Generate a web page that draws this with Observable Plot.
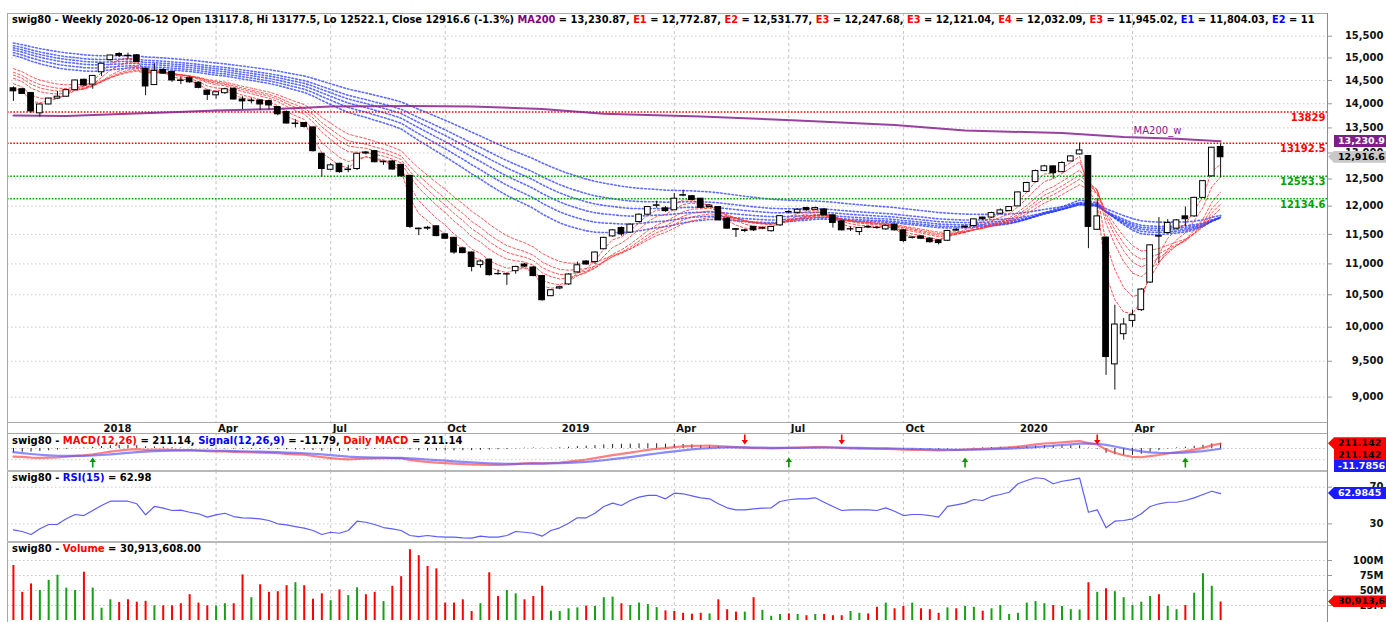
<!DOCTYPE html>
<html>
<head>
<meta charset="utf-8">
<script src="https://cdn.jsdelivr.net/npm/d3@7"></script>
<script src="https://cdn.jsdelivr.net/npm/@observablehq/plot@0.6"></script>
<style>
  html, body { margin: 0; padding: 0; background: #fff; }
  #chart { position: relative; width: 1386px; height: 622px; overflow: hidden; background: #fff;
    font-family: "DejaVu Sans", Verdana, sans-serif; font-size: 10px; font-weight: bold; color: #000; }
  #chart svg { position: absolute; left: 0; }
  .title { position: absolute; left: 12px; height: 13px; line-height: 13px; white-space: nowrap; overflow: hidden; }
  .rule { position: absolute; background: #a8a8a8; }
  .box { position: absolute; height: 12px; line-height: 12px; white-space: nowrap; box-sizing: border-box; font-size: 9.5px; }
</style>
</head>
<body>
<div id="chart"></div>
<script>
// ---------------- data ----------------
const firstWeek = "2017-10-27";
const lastWeek = "2020-06-12";

const open = [14330,14310,14230,13800,13985,14110,14150,14290,14515,14410,
14680,14950,15090,15050,15060,14760,14400,14730,14690,14500,
14550,14450,14280,14180,14225,14320,14090,14065,14070,14055,
13930,13825,13590,13600,13510,12985,12675,12790,12680,12690,
12990,13035,12830,12835,12770,12560,11600,11600,11640,11500,
11440,11260,11190,10980,11070,10830,10830,10880,10990,10940,
10800,10478,10600,10665,10860,11040,11030,11245,11465,11610,
11530,11715,11846,12005,11960,11925,12190,12180,12135,11985,
11983,11775,11590,11570,11630,11600,11555,11657,11890,11880,
11965,11935,11940,11834,11727,11590,11540,11620,11615,11587,
11670,11570,11440,11465,11425,11397,11390,11565,11620,11645,
11795,11795,11863,11910,11995,12260,12443,12650,12740,12630,
12835,12972,12940,11580,11445,9455,9895,10095,10260,10695,
11460,11524,11600,11816,11816,12150,12550,13117.8];

const high = [14360,14320,14230,13990,14120,14260,14300,14510,14530,14610,
14880,15060,15120,15110,15080,14770,14870,14760,14700,14570,
14580,14470,14290,14270,14330,14330,14150,14120,14080,14080,
13940,13850,13670,13610,13520,12990,12790,12800,12760,12990,
13030,13050,12840,12850,12780,12570,11610,11640,11650,11510,
11450,11280,11200,11060,11080,10900,10840,10960,11010,10960,
10810,10580,10640,10840,11030,11050,11200,11450,11580,11630,
11680,11860,11990,12090,11990,12230,12290,12190,12140,12020,
11990,11790,11600,11590,11640,11630,11640,11830,11920,11950,
11980,11980,11950,11840,11740,11630,11620,11650,11630,11660,
11680,11580,11460,11470,11440,11400,11570,11610,11650,11770,
11800,11890,11950,11990,12260,12440,12670,12760,12750,12830,
12950,13195,12950,12135,11450,10336,10130,10260,10600,11320,
11795,11760,11760,11985,12160,12470,13110,13177.5];

const low = [14050,14200,13800,13720,13980,14100,14140,14280,14370,14310,
14590,14930,15010,14960,14900,14170,14390,14640,14460,14410,
14440,14320,14070,14100,14200,14080,13880,14000,13860,13870,
13750,13580,13500,13500,13020,12535,12660,12610,12620,12660,
12960,12810,12760,12670,12540,11600,11480,11570,11460,11410,
11160,11170,10870,10930,10800,10815,10650,10830,10940,10790,
10400,10470,10580,10650,10850,10980,10990,11240,11450,11470,
11520,11700,11840,11960,11890,11920,12170,12100,11950,11980,
11740,11590,11445,11530,11550,11580,11540,11640,11860,11860,
11910,11920,11830,11610,11560,11550,11480,11600,11590,11570,
11560,11360,11420,11410,11350,11320,11380,11550,11600,11640,
11740,11780,11850,11900,11990,12250,12430,12640,12500,12620,
12830,12960,11255,11570,9300,9096,9806,10000,10240,10680,
11005,11510,11590,11630,11800,12140,12540,12522.1];

const close = [14265,14210,13840,13985,14110,14150,14290,14500,14390,14600,
14870,15056,15050,15040,14910,14370,14710,14650,14500,14490,
14460,14340,14190,14245,14310,14090,14050,14055,13985,13965,
13780,13590,13580,13520,13035,12690,12760,12630,12670,12985,
13010,12820,12820,12680,12550,11630,11590,11615,11470,11425,
11190,11180,10950,11040,10815,10835,10825,10950,10955,10800,
10414,10572,10620,10825,10977,10990,11190,11440,11570,11500,
11670,11846,11983,12015,11910,12135,12200,12110,11970,12010,
11745,11600,11580,11560,11570,11610,11630,11820,11895,11935,
11925,11965,11835,11700,11570,11585,11610,11630,11610,11650,
11570,11385,11445,11425,11365,11350,11560,11575,11635,11763,
11765,11875,11923,11983,12250,12425,12650,12740,12610,12805,
12933,13050,11630,11816,9560,10040,10040,10182,10583,11312,
11470,11700,11745,11765,12150,12460,13103,12916.6];

// weekly volume, millions
const volumeM = [91.7,47,61,50,67,75.5,54,50,80.5,54,
20.5,34.5,30,34.5,30.5,32,24.5,24.5,24.5,28,
43,29,24.5,24,28,28,76,38,59.5,47,
48,58,63,58,35.5,44.5,33,51,41.5,54.5,
43,47,31.5,57,73,118,108,90,86,29,
29,34.5,15,28,79.5,40,50,44.5,34.5,40,
57,15.5,15,19.5,21,24,23.5,38,39,28,
25,29,26.5,21.5,16,15,12,10.5,12,11,
34.5,18,14,14,38,17,7,10,11,10,
8,10,10,8,8,15,12,11,22,29,
19.5,23.5,29,19.5,18,12,21,19.5,23.5,22,
15.5,19.5,25,10,12,29,31.5,28,25,23.5,
18,17.5,63,47,53,48,38,25,30.5,40,
43,23.5,18,25,45.5,78,57,30.913608];

// 1 = up-volume bar, 0 = down-volume bar
const volumeUp = [0,0,0,1,1,1,1,1,0,1,
1,1,0,0,0,0,1,0,0,0,
0,0,0,1,1,0,0,1,0,0,
0,0,1,0,0,0,1,0,1,1,
0,0,1,0,0,0,0,0,0,0,
0,0,0,1,0,0,1,1,0,0,
0,1,1,1,1,0,1,1,1,0,
1,1,1,1,0,0,0,0,0,1,
0,0,0,1,0,1,1,1,0,1,
0,1,0,0,0,1,1,0,0,1,
0,0,1,0,0,0,1,0,1,1,
0,1,1,1,1,1,1,1,0,1,
1,1,0,1,0,1,1,1,1,1,
0,1,1,0,1,1,1,0];

const rsi15 = [23.5,21.7,18.4,24.6,29.3,29.5,35.5,40.2,39.1,44.6,
50,54.7,54.7,54.7,51.9,39.9,49,47.1,44.6,45,
42.7,41,37.3,39.9,41.6,38,36.6,36.2,35.5,33.7,
30.1,29,27.1,25.3,22.8,18.4,20.9,19.8,22.8,32.9,
31.8,29.3,26,24.6,22.8,17.3,16.2,17.3,16.2,15.5,
15.5,14.8,14.4,16.6,15.5,15.5,17.3,21.7,20.9,19.8,
16.6,22.8,25.7,30.7,36.6,36.6,41.6,49,52.6,50,
55.5,59.1,61,61,57.3,63.5,62.8,60.5,58.4,57.3,
51.9,47.5,45.3,45.3,46.4,47.1,47.5,54.4,56.3,57.3,
57.3,58.4,53.6,49,44.6,45.3,45.3,45.3,44.6,47.5,
43.8,39.1,40.2,40.2,39.1,37.3,49,50.8,52.6,56.6,
55.5,59.9,62,64.5,73.7,77.3,80.3,79.2,73.7,76.5,
78,79.8,42.7,45.3,25.7,32.9,33.7,35.5,41,49,
51.9,53.6,53.6,55.5,58.4,62,65.6,62.98];

// 200-week moving average, read at these week numbers
const ma200Week  = [0, 6, 13, 18, 23, 29, 33, 36, 45, 52, 60, 67, 78, 89, 100, 108, 119, 126, 132, 137];
const ma200Value = [13756, 13742, 13790, 13823, 13860, 13887, 13916, 13943, 13953, 13943, 13891, 13790, 13735, 13653, 13561, 13449, 13395, 13315, 13280, 13230.87];

// horizontal levels
const levelValue = [13829, 13192.5, 12553.3, 12134.6];
const levelKind  = ["resistance", "resistance", "support", "support"];

// Guppy exponential averages: periods and their values at the first week
const shortPeriods = [3, 5, 8, 10, 12, 15];
const shortStart   = [14330, 14430, 14550, 14620, 14680, 14760];
const longPeriods  = [30, 35, 40, 45, 50, 60];
const longStart    = [15060, 15120, 15180, 15230, 15280, 15340];
// MACD(12,26,9): slow average and signal at the first week
const macdFast = 12, macdSlow = 26, macdSignal = 9;
const macdSlowStart = 15040;
const signalStart = -163;

const sellWeeks = [83, 94, 123];
const buyWeeks  = [9, 88, 108, 133];

const priceTicks  = [9000, 9500, 10000, 10500, 11000, 11500, 12000, 12500, 13000, 13500, 14000, 14500, 15000, 15500];
const volumeTicks = [25, 50, 75, 100];
const rsiTicks    = [30, 70];
const macdGrid    = [0, -500];

const headerLead  = "swig80 - Weekly 2020-06-12 Open 13117.8, Hi 13177.5, Lo 12522.1, Close 12916.6 (-1.3%)";
const headerNames = ["MA200", "E1", "E2", "E3", "E3", "E4", "E3", "E1", "E2"];
const headerVals  = ["13,230.87", "12,772.87", "12,531.77", "12,247.68", "12,121.04", "12,032.09", "11,945.02", "11,804.03", "11"];
const headerKind  = ["ma", "short", "short", "short", "short", "short", "short", "long", "long"];

const lastMA = 13230.87, lastClose = 12916.6, lastMacd = 211.142, lastSignal = -11.7856, lastRsi = 62.9845, lastVolume = 30.913608;

// ---------------- build ----------------
const RED = "#ff0000", BLUE = "#0000ff", GREEN = "#009a00", PURPLE = "#86208e";
const chart = document.getElementById("chart");
const weeks = d3.utcFriday.range(new Date(firstWeek), d3.utcDay.offset(new Date(lastWeek), 1));
const candles = weeks.map((date, i) => ({
  date, open: open[i], high: high[i], low: low[i], close: close[i],
  volume: volumeM[i], dir: volumeUp[i] ? "up" : "down", rsi: rsi15[i]
}));
const maPoints = ma200Week.map((w, k) => ({date: weeks[w], value: ma200Value[k]}));
const levels = levelValue.map((v, k) => ({value: v, kind: levelKind[k]}));

const qTicks = weeks.filter((d, i) => i > 0 && d.getUTCMonth() % 3 === 0 && d.getUTCMonth() !== weeks[i - 1].getUTCMonth());
const qGrid = qTicks.filter(d => d.getUTCMonth() !== 0);
const fmtQ = d => d.getUTCMonth() === 0 ? String(d.getUTCFullYear()) : d3.utcFormat("%b")(d);

function emaOf(values, period, start) {
  const a = 2 / (period + 1), out = [];
  let e = start;
  values.forEach((v, i) => { e = i === 0 ? start : e + a * (v - e); out.push(e); });
  return out;
}
const emaMap = (period, start) => (values) => emaOf(values, period, start);
const fastStart = shortStart[shortPeriods.indexOf(macdFast)];
const macdOf = (values) => { const f = emaOf(values, macdFast, fastStart), s = emaOf(values, macdSlow, macdSlowStart); return f.map((v, i) => v - s[i]); };
const signalOf = (values) => emaOf(macdOf(values), macdSignal, signalStart);
const histOf = (values) => { const m = macdOf(values), s = signalOf(values); return m.map((v, i) => v - s[i]); };

const W = 1386, ML = 7, MR = 59;
const xScale = () => ({type: "utc", domain: [d3.utcHour.offset(weeks[0], -113), d3.utcHour.offset(weeks[weeks.length - 1], 2038)], axis: null});
const style = {fontFamily: '"DejaVu Sans", Verdana, sans-serif', fontSize: "10px", fontWeight: "bold", color: "#000", background: "transparent", overflow: "visible"};
const vgrid = () => Plot.gridX(qGrid, {stroke: "#c4c4c4", strokeOpacity: 1, strokeDasharray: "3,3"});
const rightText = (ticks, fmt) => Plot.axisY(ticks, {anchor: "right", tickSize: 0, tickPadding: 0, dx: 56, textAnchor: "end", tickFormat: fmt, fill: "#111", label: null});
const rightTicks = (ticks) => Plot.axisY(ticks, {anchor: "right", tickSize: 4, fill: "none", stroke: "#999", label: null});
const levelColor = k => k === "resistance" ? RED : "#00a000";
const bodyHalfHours = 54;

// ---- price panel ----
const pricePlot = Plot.plot({
  width: W, height: 433, marginLeft: ML, marginRight: MR, marginTop: 13, marginBottom: 10.5,
  style, x: xScale(), y: {type: "log", domain: [8656, 16039], axis: null},
  marks: [
    Plot.gridY(priceTicks, {stroke: "#c8c8c8", strokeOpacity: 1, strokeDasharray: "1.5,2.5"}),
    vgrid(),
    ...longPeriods.map((p, k) => Plot.lineY(candles, Plot.mapY(emaMap(p, longStart[k]), {x: "date", y: "close", stroke: "#2a3cff", strokeWidth: 1.6, strokeDasharray: "1.6,2.2", strokeOpacity: 0.75}))),
    ...shortPeriods.map((p, k) => Plot.lineY(candles, Plot.mapY(emaMap(p, shortStart[k]), {x: "date", y: "close", stroke: "#ff2a2a", strokeWidth: 1, strokeDasharray: "2.5,2", strokeOpacity: 0.8}))),
    Plot.ruleY(levels, {y: "value", stroke: d => levelColor(d.kind), strokeWidth: 1.6, strokeDasharray: "1.6,1.6"}),
    Plot.line(maPoints, {x: "date", y: "value", stroke: PURPLE, strokeWidth: 2, strokeOpacity: 0.85}),
    Plot.ruleX(candles, {x: "date", y1: "low", y2: "high", stroke: "#111", strokeWidth: 1}),
    Plot.rect(candles, {
      x1: d => d3.utcHour.offset(d.date, -bodyHalfHours), x2: d => d3.utcHour.offset(d.date, bodyHalfHours),
      y1: "open", y2: "close", fill: d => d.close >= d.open ? "#fff" : "#000", stroke: "#000", strokeWidth: 1
    }),
    Plot.text(levels, {y: "value", text: d => String(d.value), frameAnchor: "right", textAnchor: "end", dx: -2, dy: 6, fill: d => levelColor(d.kind)}),
    Plot.text(maPoints.slice(-1), {x: "date", y: "value", text: () => "MA200_w", textAnchor: "start", dx: -87, dy: -10, fill: PURPLE, fontWeight: "normal"}),
    rightTicks(priceTicks),
    rightText(priceTicks, d3.format(",")),
    Plot.axisX(qTicks, {anchor: "bottom", tickSize: 0, tickPadding: 2, textAnchor: "start", dx: 2, tickFormat: fmtQ, fill: "#111", label: null})
  ]
});
pricePlot.style.top = "0px";
chart.appendChild(pricePlot);

// ---- MACD panel ----
const signalArrow = {draw(ctx, l) {
  const w = 3.2, h = 4.5, s = 0.8;
  ctx.moveTo(-s, 0); ctx.lineTo(-s, -l + h); ctx.lineTo(-w, -l + h); ctx.lineTo(0, -l);
  ctx.lineTo(w, -l + h); ctx.lineTo(s, -l + h); ctx.lineTo(s, 0); ctx.closePath();
}};
const macdTop = 433;
const macdPlot = Plot.plot({
  width: W, height: 38, marginLeft: ML, marginRight: MR, marginTop: 0, marginBottom: 0,
  style, x: xScale(), y: {domain: [-1026, 669], axis: null},
  marks: [
    vgrid(),
    Plot.gridY(macdGrid, {stroke: "#c8c8c8", strokeOpacity: 1, strokeDasharray: "1.5,2.5"}),
    Plot.ruleX(candles, Plot.mapY(histOf, {x: "date", y: "close", stroke: "#222", strokeWidth: 1})),
    Plot.lineY(candles, Plot.mapY(macdOf, {x: "date", y: "close", stroke: "#ff4a4a", strokeWidth: 2.2, strokeOpacity: 0.7})),
    Plot.lineY(candles, Plot.mapY(signalOf, {x: "date", y: "close", stroke: "#5a5aff", strokeWidth: 2.2, strokeOpacity: 0.7})),
    Plot.vector(sellWeeks.map(i => weeks[i]), {x: d => d, frameAnchor: "top", anchor: "start", rotate: 180, length: 10, shape: signalArrow, fill: RED, stroke: "none", dy: 1}),
    Plot.vector(buyWeeks.map(i => weeks[i]), {x: d => d, frameAnchor: "bottom", anchor: "start", rotate: 0, length: 10, shape: signalArrow, fill: GREEN, stroke: "none", dy: -4})
  ]
});
macdPlot.style.top = macdTop + "px";
chart.appendChild(macdPlot);

// ---- RSI panel ----
const rsiTop = 471;
const rsiPlot = Plot.plot({
  width: W, height: 71, marginLeft: ML, marginRight: MR, marginTop: 0, marginBottom: 0,
  style, x: xScale(), y: {domain: [9.7, 87.1], axis: null},
  marks: [
    vgrid(),
    Plot.gridY(rsiTicks, {stroke: "#c8c8c8", strokeOpacity: 1, strokeDasharray: "1.5,2.5"}),
    Plot.lineY(candles, {x: "date", y: "rsi", stroke: "#5c5cff", strokeWidth: 1.2}),
    rightTicks(rsiTicks),
    rightText(rsiTicks, d => String(d))
  ]
});
rsiPlot.style.top = rsiTop + "px";
chart.appendChild(rsiPlot);

// ---- Volume panel ----
const volTop = 542;
const volPlot = Plot.plot({
  width: W, height: 80, marginLeft: ML, marginRight: MR, marginTop: 0, marginBottom: 2,
  style, x: xScale(), y: {domain: [0, 130], axis: null},
  marks: [
    vgrid(),
    Plot.gridY(volumeTicks, {stroke: "#c8c8c8", strokeOpacity: 1, strokeDasharray: "1.5,2.5"}),
    Plot.ruleX(candles, {x: "date", y: "volume", stroke: d => d.dir === "up" ? "#16a016" : "#ff0000", strokeWidth: 2}),
    rightTicks(volumeTicks),
    rightText(volumeTicks, d => d + "M")
  ]
});
volPlot.style.top = volTop + "px";
chart.appendChild(volPlot);

// ---------------- frame, titles and value boxes ----------------
function rule(x, y, w, h, color) {
  const d = document.createElement("div");
  d.className = "rule";
  Object.assign(d.style, {left: x + "px", top: y + "px", width: w + "px", height: h + "px"});
  if (color) d.style.background = color;
  chart.appendChild(d);
}
rule(7, 13, 1320, 1);
rule(7, 13, 1, 609);
rule(1327, 13, 1, 609, "#8c8c8c");
rule(7, 422, 1320, 1);
rule(7, 433, 1320, 1);
rule(7, 470, 1320, 2, "#b8b8b8");
rule(7, 541, 1320, 2, "#b8b8b8");

function title(top, parts, size) {
  const d = document.createElement("div");
  d.className = "title";
  d.style.top = top + "px";
  d.style.width = "1312px";
  if (size) d.style.fontSize = size;
  parts.forEach(([t, c]) => { const s = document.createElement("span"); s.textContent = t; if (c) s.style.color = c; d.appendChild(s); });
  chart.appendChild(d);
}
const kindColor = {ma: "#800080", short: RED, long: BLUE};
const headerParts = [[headerLead + " ", null]];
headerNames.forEach((n, k) => {
  headerParts.push([n, kindColor[headerKind[k]]]);
  headerParts.push([" = " + headerVals[k] + (k < headerNames.length - 1 ? ", " : ""), null]);
});
title(13, headerParts, "9.85px");
title(434, [["swig80 - ", null], ["MACD(12,26)", RED], [" = 211.14, ", null], ["Signal(12,26,9)", BLUE], [" = -11.79, ", null], ["Daily MACD", RED], [" = 211.14", null]]);
title(471, [["swig80 - ", null], ["RSI(15)", BLUE], [" = 62.98", null]]);
title(542, [["swig80 - ", null], ["Volume", RED], [" = 30,913,608.00", null]]);

function box(yCenter, text, bg, fg, arrow) {
  const d = document.createElement("div");
  d.className = "box";
  d.textContent = text;
  const left = arrow ? 1328 : 1334;
  Object.assign(d.style, {top: (yCenter - 6) + "px", left: left + "px", width: (1386 - left) + "px",
    background: bg, color: fg, paddingLeft: (arrow ? 10 : 4) + "px"});
  if (arrow) d.style.clipPath = "polygon(0 50%, 6px 0, 100% 0, 100% 100%, 6px 100%)";
  chart.appendChild(d);
}
const py = pricePlot.scale("y"), my = macdPlot.scale("y"), ry = rsiPlot.scale("y"), vy = volPlot.scale("y");
box(py.apply(lastMA), d3.format(",.1f")(lastMA), "#7e1f87", "#fff", false);
box(py.apply(lastClose), d3.format(",.1f")(lastClose), "#c8c8c8", "#000", true);
const m0 = macdTop + my.apply(lastMacd);
box(m0, String(lastMacd), "#ff0000", "#000", true);
box(m0 + 11.3, String(lastMacd), "#ff0000", "#000", false);
box(m0 + 22.6, String(lastSignal), "#1a1aff", "#fff", false);
box(rsiTop + ry.apply(lastRsi), String(lastRsi), "#1a1aff", "#fff", true);
box(volTop + vy.apply(lastVolume), d3.format(",")(Math.round(lastVolume * 1e6)), "#ff0000", "#000", true);
</script>
</body>
</html>
